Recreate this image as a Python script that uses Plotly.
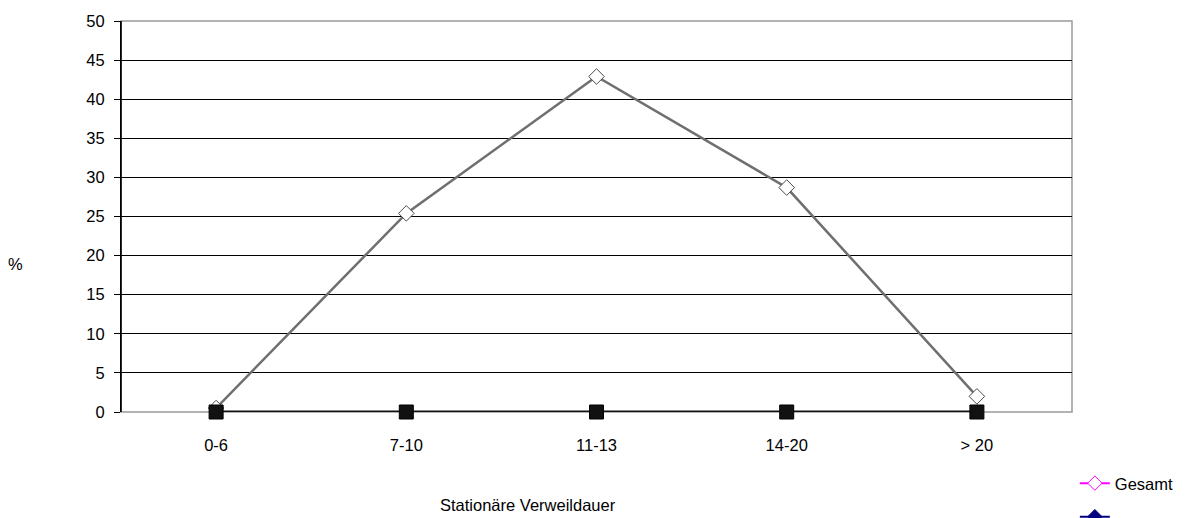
import plotly.graph_objects as go

categories = ["0-6", "7-10", "11-13", "14-20", "> 20"]
gesamt = [0.5, 25.4, 42.9, 28.7, 2.0]
serie2 = [0, 0, 0, 0, 0]
y_ticks = [0, 5, 10, 15, 20, 25, 30, 35, 40, 45, 50]

FONT = "Liberation Sans, Arial, sans-serif"
FS = 16.5

fig = go.Figure()

fig.add_trace(go.Scatter(
    x=categories, y=gesamt, mode="lines+markers", showlegend=False,
    cliponaxis=False,
    line=dict(color="#6f6f6f", width=2.5),
    marker=dict(symbol="diamond", size=12, color="white",
                line=dict(color="#4a4a4a", width=1)),
))
fig.add_trace(go.Scatter(
    x=categories, y=serie2, mode="lines+markers", showlegend=False,
    cliponaxis=False,
    line=dict(color="#111111", width=3),
    marker=dict(symbol="square", size=14, color="#111111",
                line=dict(color="#000000", width=1)),
))

# legend-only entries (styled as in the original legend)
fig.add_trace(go.Scatter(
    x=[None], y=[None], mode="lines+markers", name="Gesamt",
    legendgroup="a",
    line=dict(color="#ff00ff", width=2),
    marker=dict(symbol="diamond", size=11, color="white",
                line=dict(color="#ff00ff", width=1)),
))
fig.add_trace(go.Scatter(
    x=[None], y=[None], mode="lines+markers", name=" ",
    legendgroup="b",
    line=dict(color="#000080", width=2),
    marker=dict(symbol="diamond", size=11, color="#000080",
                line=dict(color="#000080", width=1)),
))

# the page body adds an 8px offset, so the figure is 8px smaller with
# left/top margins reduced accordingly
fig.update_layout(
    width=1185, height=510,
    margin=dict(l=113, r=121, t=13, b=106, autoexpand=False),
    paper_bgcolor="white", plot_bgcolor="white",
    font=dict(family=FONT, size=FS, color="black"),
    xaxis=dict(
        type="category", range=[-0.5, 4.5],
        showgrid=False, showline=False, ticks="",
        ticklabelstandoff=21, zeroline=False,
        tickfont=dict(family=FONT, size=FS, color="black"),
    ),
    yaxis=dict(
        range=[0, 50], tickvals=y_ticks, ticktext=[str(v) for v in y_ticks],
        showgrid=True, gridcolor="black", gridwidth=1,
        showline=True, linecolor="black", linewidth=1,
        ticks="outside", ticklen=6, tickcolor="black",
        ticklabelstandoff=6,
        zeroline=False,
        tickfont=dict(family=FONT, size=FS, color="black"),
    ),
    legend=dict(
        x=1.003, xanchor="left", y=-0.138, yanchor="top",
        font=dict(family=FONT, size=FS, color="black"),
        tracegroupgap=9, bgcolor="rgba(0,0,0,0)",
    ),
    shapes=[dict(type="rect", xref="paper", yref="paper", x0=0, x1=1, y0=0, y1=1,
                 line=dict(color="#999999", width=1.5), layer="between")],
    annotations=[
        dict(text="%", xref="paper", yref="paper", x=-106/951, y=(412-264)/391,
             showarrow=False, xanchor="center", yanchor="middle",
             font=dict(family=FONT, size=FS, color="black")),
        dict(text="Stationäre Verweildauer", xref="paper", yref="paper",
             x=(528-121)/951, y=-(505-412)/391, showarrow=False,
             xanchor="center", yanchor="middle",
             font=dict(family=FONT, size=FS, color="black")),
    ],
)

# redraw left axis line black on top of the grey border
fig.add_shape(type="line", xref="paper", yref="paper", x0=0, x1=0, y0=0, y1=1,
              line=dict(color="black", width=1.5), layer="between")

fig.write_html("out.html")
